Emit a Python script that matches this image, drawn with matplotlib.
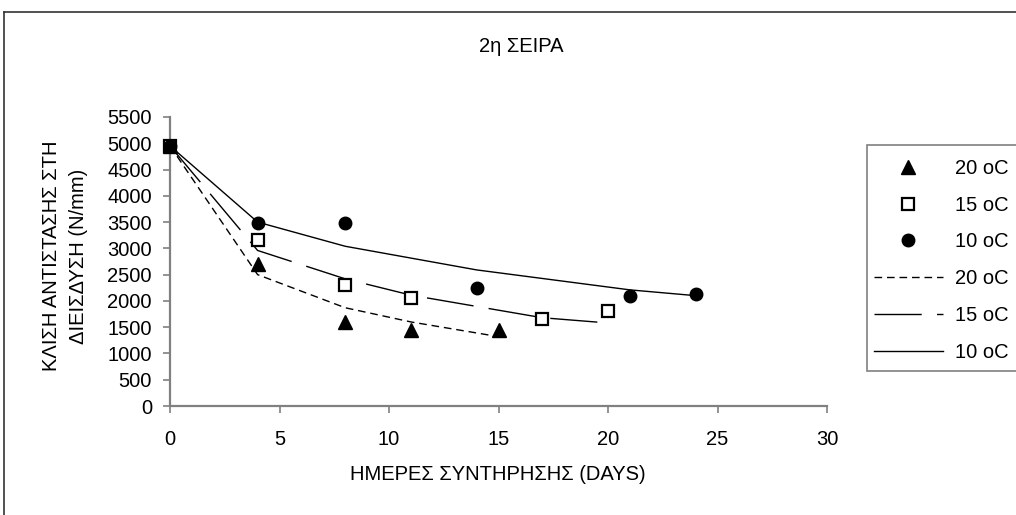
import matplotlib
matplotlib.use("Agg")
import matplotlib.pyplot as plt
from matplotlib.lines import Line2D
from matplotlib.patches import Rectangle

plt.rcParams['font.family'] = ['Liberation Sans', 'DejaVu Sans']

# Measured penetration resistance per storage temperature
days_20 = [0, 4, 8, 11, 15]
res_20 = [4950, 2700, 1600, 1450, 1450]
days_15 = [0, 4, 8, 11, 17, 20]
res_15 = [4950, 3150, 2300, 2050, 1650, 1800]
days_10 = [0, 4, 8, 14, 21, 24]
res_10 = [4950, 3480, 3480, 2250, 2100, 2130]

# Fitted trend values at the same days
fit_20 = [4950, 2500, 1870, 1600, 1320]
fit_15 = [4950, 2960, 2420, 2110, 1680, 1580]
fit_10 = [4950, 3500, 3040, 2590, 2210, 2100]

labels = ['20 oC', '15 oC', '10 oC']
x_ticks = [0, 5, 10, 15, 20, 25, 30]
y_ticks = list(range(0, 5501, 500))

title = '2η ΣΕΙΡΑ'
xlabel = 'ΗΜΕΡΕΣ ΣΥΝΤΗΡΗΣΗΣ (DAYS)'
ylabel_lines = ['ΚΛΙΣΗ ΑΝΤΙΣΤΑΣΗΣ ΣΤΗ', 'ΔΙΕΙΣΔΥΣΗ (N/mm)']

W, H = 1016, 515
fig = plt.figure(figsize=(W / 100, H / 100), dpi=100)
ax = fig.add_axes([170 / W, 1 - 406 / H, (827 - 170) / W, (406 - 117) / H])

fs = 14.5

# Outer chart frame (top and left edges visible)
fig.add_artist(Line2D([4 / W, 1.0], [1 - 12 / H] * 2, transform=fig.transFigure,
                      color='#333333', lw=1.2))
fig.add_artist(Line2D([4 / W] * 2, [0, 1 - 12 / H], transform=fig.transFigure,
                      color='#333333', lw=1.2))

h_sq, = ax.plot(days_15, res_15, linestyle='none', marker='s', ms=8,
                mfc='white', mec='black', mew=1.6, clip_on=False, zorder=3)
h_tri, = ax.plot(days_20, res_20, linestyle='none', marker='^', ms=10,
                 color='black', clip_on=False, zorder=4)
h_ci, = ax.plot(days_10, res_10, linestyle='none', marker='o', ms=9,
                color='black', clip_on=False, zorder=4)

h_f20, = ax.plot(days_20, fit_20, color='black', lw=1.0, dashes=(5.5, 3.5))
h_f15, = ax.plot(days_15, fit_15, color='black', lw=1.0, dashes=(34, 11))
h_f10, = ax.plot(days_10, fit_10, color='black', lw=1.0)

ax.set_xlim(0, 30)
ax.set_ylim(0, 5500)
ax.set_xticks(x_ticks)
ax.set_yticks(y_ticks)
ax.tick_params(axis='both', direction='out', length=5, width=1.2,
               color='#808080', labelsize=fs, labelcolor='black')
ax.tick_params(axis='x', pad=12)
ax.tick_params(axis='y', pad=8)
for side in ('top', 'right'):
    ax.spines[side].set_visible(False)
for side in ('left', 'bottom'):
    ax.spines[side].set_color('#808080')
    ax.spines[side].set_linewidth(1.6)

fig.text(521 / W, 1 - 46 / H, title, ha='center', va='center', fontsize=fs)
fig.text(498 / W, 1 - 474 / H, xlabel, ha='center', va='center', fontsize=fs)
fig.text(52 / W, 1 - 256 / H, ylabel_lines[0], ha='center', va='center',
         rotation=90, fontsize=fs)
fig.text(79 / W, 1 - 256 / H, ylabel_lines[1], ha='center', va='center',
         rotation=90, fontsize=fs)

# Legend box extends past the right edge of the chart area
fig.add_artist(Rectangle((867 / W, 1 - 371 / H), 0.2, (371 - 145) / H,
                         transform=fig.transFigure, facecolor='white',
                         edgecolor='#808080', lw=1.2, zorder=0))

leg = ax.legend([h_tri, h_sq, h_ci, h_f20, h_f15, h_f10], labels + labels,
                loc='upper left', bbox_to_anchor=(867 / W, 1 - 152 / H, 0.2, 0.0),
                bbox_transform=fig.transFigure, mode='expand', fontsize=fs,
                frameon=False, handlelength=3.4, handletextpad=0.6,
                labelspacing=0.88, borderpad=0.35, borderaxespad=0, numpoints=1)
leg.set_clip_on(False)

fig.savefig('out.png', dpi=100)
